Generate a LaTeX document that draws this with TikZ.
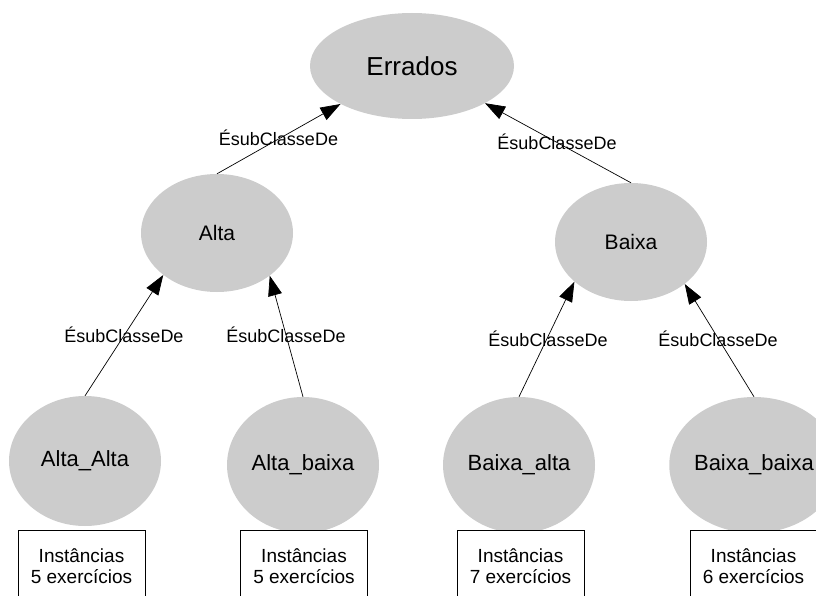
\documentclass[tikz,border=0pt]{standalone}
\usepackage{fontspec}
\setmainfont{Liberation Sans}
\usetikzlibrary{shapes.geometric,arrows.meta}

\tikzset{
  classe/.style={ellipse, fill=black!20, draw=none, inner sep=0pt},
  instbox/.style={draw=black, line width=0.8pt, fill=white, minimum width=127pt,
    minimum height=72pt, inner sep=0pt, align=center,
    font=\fontsize{19}{20.5}\selectfont},
  rel/.style={draw=black, line width=0.7pt,
    -{Triangle[length=20pt,width=14pt]}},
  rellabel/.style={inner sep=0pt, font=\fontsize{18}{20}\selectfont},
}

\begin{document}
\begin{tikzpicture}[x=1pt, y=-1pt]
\useasboundingbox (0,0) rectangle (816,596);

% class hierarchy
\node[classe, minimum width=204pt, minimum height=106pt,
      font=\fontsize{26}{28}\selectfont] (errados) at (412,66) {Errados};
\node[classe, minimum width=152pt, minimum height=118pt,
      font=\fontsize{21}{24}\selectfont] (alta) at (217,233) {Alta};
\node[classe, minimum width=152pt, minimum height=118pt,
      font=\fontsize{21}{24}\selectfont] (baixa) at (631,242) {Baixa};

% leaf classes
\node[classe, minimum width=152pt, minimum height=130pt,
      font=\fontsize{22}{24}\selectfont] (altaalta) at (85,461) {Alta\_Alta};
\node[classe, minimum width=152pt, minimum height=136pt,
      font=\fontsize{22}{24}\selectfont] (altabaixa) at (303,465) {Alta\_baixa};
\node[classe, minimum width=152pt, minimum height=136pt,
      font=\fontsize{22}{24}\selectfont] (baixaalta) at (519,465) {Baixa\_alta};
\node[classe, minimum width=154pt, minimum height=136pt,
      font=\fontsize{22}{24}\selectfont] (baixabaixa) at (754,465) {Baixa\_baixa};

% instance counts
\node[instbox] (instaa) at (81.5,566) {Instâncias\\5 exercícios};
\node[instbox] (instab) at (304,566) {Instâncias\\5 exercícios};
\node[instbox] (instba) at (520.5,566) {Instâncias\\7 exercícios};
\node[instbox] (instbb) at (753.5,566) {Instâncias\\6 exercícios};

% subclass relations
\draw[rel] (alta.north) -- (errados.208);
\draw[rel] (baixa.north) -- (errados.333);
\draw[rel] (altaalta.north) -- (alta.218);
\draw[rel] (altabaixa.north) -- (alta.321);
\draw[rel] (baixaalta.north) -- (baixa.215);
\draw[rel] (baixabaixa.north) -- (baixa.322);

% relation labels
\node[rellabel] (l1) at (278.5,138) {ÉsubClasseDe};
\node[rellabel] (l2) at (557,142) {ÉsubClasseDe};
\node[rellabel] (l3) at (124,335) {ÉsubClasseDe};
\node[rellabel] (l4) at (286,335) {ÉsubClasseDe};
\node[rellabel] (l5) at (548,339) {ÉsubClasseDe};
\node[rellabel] (l6) at (718,339) {ÉsubClasseDe};
\end{tikzpicture}
\end{document}
